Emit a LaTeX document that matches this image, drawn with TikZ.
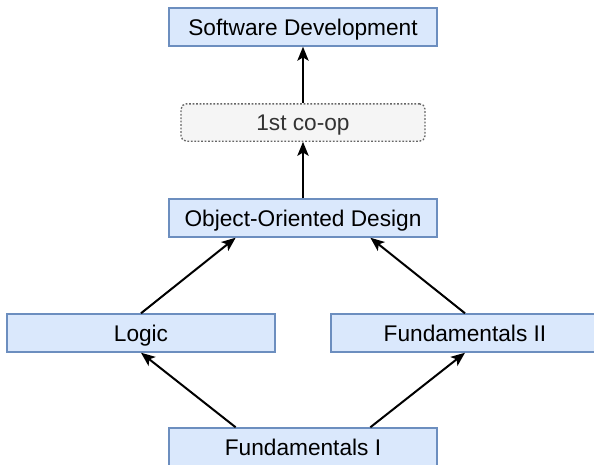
\documentclass[tikz,border=0pt]{standalone}
\usepackage{fontspec}
\setmainfont{Liberation Sans}
\usetikzlibrary{arrows.meta,calc}
\definecolor{bfill}{HTML}{DAE8FC}
\definecolor{bdraw}{HTML}{6C8EBF}
\definecolor{gfill}{HTML}{F5F5F5}
\definecolor{gdraw}{HTML}{666666}
\definecolor{gtext}{HTML}{333333}
\tikzset{
  course/.style={draw=bdraw, fill=bfill, line width=1.1pt, minimum width=201pt, minimum height=28.5pt, inner sep=0pt, text height=12.2pt, text depth=0pt, font=\fontsize{17}{20}\selectfont},
  coop/.style={draw=gdraw, fill=gfill, line width=1pt, dash pattern=on 1.3pt off 1.3pt, rounded corners=4pt, minimum width=183pt, minimum height=28pt, inner sep=0pt, text height=12.2pt, text depth=0pt, text=gtext, font=\fontsize{17}{20}\selectfont},
  arr/.style={line width=1.5pt, -{Stealth[length=10.5pt,width=8.5pt,inset=2.5pt]}}
}
\begin{document}
\begin{tikzpicture}[x=0.75pt,y=-0.75pt]
\useasboundingbox (0,0) rectangle (594,465);
\node[course] (sd) at (303,27) {Software Development};
\node[coop] (coop) at (303,122.5) {1st co-op};
\node[course] (ood) at (303,218) {Object-Oriented Design};
\node[course] (logic) at (141,333) {Logic};
\node[course] (f2) at (465,333) {Fundamentals II};
\node[course] (f1) at (303,447) {Fundamentals I};
\draw[arr] (coop.north) -- (sd.south);
\draw[arr] (ood.north) -- (coop.south);
\draw[arr] (logic.north) -- ($(ood.south)!0.5!(ood.south west)$);
\draw[arr] (f2.north) -- ($(ood.south)!0.5!(ood.south east)$);
\draw[arr] ($(f1.north)!0.5!(f1.north west)$) -- (logic.south);
\draw[arr] ($(f1.north)!0.5!(f1.north east)$) -- (f2.south);
\end{tikzpicture}
\end{document}
